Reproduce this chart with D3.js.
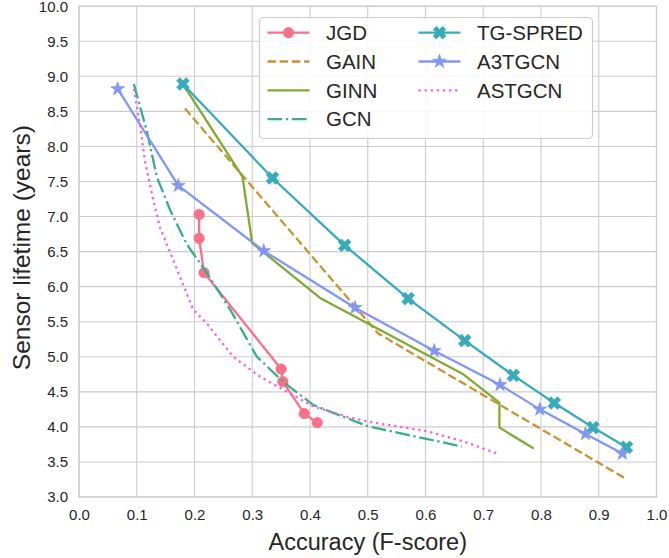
<!DOCTYPE html>
<html><head><meta charset="utf-8">
<script src="https://cdn.jsdelivr.net/npm/d3@7"></script>
<style>html,body{margin:0;padding:0;background:#fff;}svg{display:block;}</style>
</head><body>
<svg id="chart" width="669" height="558"></svg>
<script>
const seriesNames = ["JGD","GAIN","GINN","GCN","TG-SPRED","A3TGCN","ASTGCN"];
const jgdX = [0.208,0.208,0.2165,0.350,0.353,0.390,0.4125];
const jgdY = [7.03,6.69,6.20,4.825,4.645,4.19,4.06];
const gainX = [0.1835,0.518,0.947];
const gainY = [8.54,5.333,3.26];
const ginnX = [0.18,0.283,0.30,0.419,0.6655,0.728,0.728,0.786];
const ginnY = [8.89,7.57,6.62,5.83,4.75,4.345,3.99,3.70];
const gcnX = [0.095,0.118,0.135,0.158,0.187,0.221,0.262,0.308,0.354,0.406,0.50,0.663];
const gcnY = [8.89,8.2,7.56,7.09,6.6,6.2,5.67,5.0,4.64,4.31,4.01,3.72];
const tgX = [0.18,0.335,0.46,0.57,0.668,0.752,0.823,0.89,0.948];
const tgY = [8.89,7.55,6.59,5.83,5.23,4.735,4.34,3.99,3.71];
const a3X = [0.067,0.172,0.32,0.478,0.615,0.729,0.798,0.877,0.941];
const a3Y = [8.82,7.44,6.51,5.70,5.085,4.60,4.25,3.90,3.62];
const astX = [0.095,0.106,0.114,0.126,0.14,0.163,0.198,0.221,0.267,0.313,0.36,0.406,0.464,0.504,0.602,0.663,0.728];
const astY = [8.82,8.28,7.8,7.33,6.85,6.38,5.67,5.48,5.0,4.72,4.5,4.29,4.145,4.07,3.94,3.80,3.61];
const xTicks = [0.0,0.1,0.2,0.3,0.4,0.5,0.6,0.7,0.8,0.9,1.0];
const yTicks = [3.0,3.5,4.0,4.5,5.0,5.5,6.0,6.5,7.0,7.5,8.0,8.5,9.0,9.5,10.0];

const LW = 2.3;
const styles = {
  "JGD":{color:"#f77189",dash:null,marker:"circle"},
  "GAIN":{color:"#c69432",dash:[3.7*LW,1.6*LW],marker:null},
  "GINN":{color:"#82a931",dash:null,marker:null},
  "GCN":{color:"#34af8a",dash:[6.4*LW,1.6*LW,1*LW,1.6*LW],marker:null},
  "TG-SPRED":{color:"#37aabb",dash:null,marker:"x"},
  "A3TGCN":{color:"#8197f4",dash:null,marker:"star"},
  "ASTGCN":{color:"#f55deb",dash:[1*LW,1.65*LW],marker:null}
};
const seriesData = {
  "JGD":[jgdX,jgdY],"GAIN":[gainX,gainY],"GINN":[ginnX,ginnY],"GCN":[gcnX,gcnY],
  "TG-SPRED":[tgX,tgY],"A3TGCN":[a3X,a3Y],"ASTGCN":[astX,astY]
};

const svg = d3.select("#chart");
const L=79, R=656.5, T=6.2, B=497;
const x = d3.scaleLinear().domain([0,1]).range([L,R]);
const y = d3.scaleLinear().domain([3,10]).range([B,T]);
const font = "'Liberation Sans', Arial, sans-serif";
const grid = "#cccccc";

// grid
const g = svg.append("g");
g.selectAll(".vg").data(xTicks).join("line")
  .attr("x1",d=>x(d)).attr("x2",d=>x(d)).attr("y1",T).attr("y2",B)
  .attr("stroke",grid).attr("stroke-width",1.1);
g.selectAll(".hg").data(yTicks).join("line")
  .attr("y1",d=>y(d)).attr("y2",d=>y(d)).attr("x1",L).attr("x2",R)
  .attr("stroke",grid).attr("stroke-width",1.1);
g.append("rect").attr("x",L).attr("y",T).attr("width",R-L).attr("height",B-T)
  .attr("fill","none").attr("stroke",grid).attr("stroke-width",1.3);

// axes
const xAxis = svg.append("g").attr("transform",`translate(0,${B})`)
  .call(d3.axisBottom(x).tickValues(xTicks).tickFormat(d3.format(".1f")).tickSize(0).tickPadding(12));
const yAxis = svg.append("g").attr("transform",`translate(${L},0)`)
  .call(d3.axisLeft(y).tickValues(yTicks).tickFormat(d3.format(".1f")).tickSize(0).tickPadding(11));
[xAxis,yAxis].forEach(a=>{
  a.select(".domain").remove();
  a.selectAll("text").attr("font-family",font).attr("font-size",15).attr("fill","#262626");
});

svg.append("text").attr("x",(L+R)/2).attr("y",550).attr("text-anchor","middle")
  .attr("font-family",font).attr("font-size",23.5).attr("fill","#262626").text("Accuracy (F-score)");
svg.append("text").attr("transform",`translate(30,${(T+B)/2 - 4}) rotate(-90)`).attr("text-anchor","middle")
  .attr("font-family",font).attr("font-size",24.5).attr("fill","#262626").text("Sensor lifetime (years)");

// lines
const line = d3.line().x(d=>x(d[0])).y(d=>y(d[1]));
const plot = svg.append("g");
function markerPath(type){
  if(type==="circle") return d3.symbol(d3.symbolCircle, 85)();
  if(type==="x") return d3.symbol(d3.symbolCross, 100)();
  if(type==="star") return d3.symbol(d3.symbolStar, 58)();
}
function drawMarker(sel, type, color, px, py){
  sel.append("path").attr("d",markerPath(type))
    .attr("transform",`translate(${px},${py})${type==="x"?" rotate(45)":""}`)
    .attr("fill",color).attr("stroke",color).attr("stroke-width",0.8);
}
seriesNames.forEach(name=>{
  const [xs,ys] = seriesData[name];
  const pts = xs.map((v,i)=>[v,ys[i]]);
  const st = styles[name];
  plot.append("path").attr("d",line(pts)).attr("fill","none")
    .attr("stroke",st.color).attr("stroke-width",LW)
    .attr("stroke-dasharray",st.dash?st.dash.join(","):null)
    .attr("stroke-linejoin","round").attr("stroke-linecap",st.dash?"butt":"round");
  if(st.marker){
    pts.forEach(p=>drawMarker(plot, st.marker, st.color, x(p[0]), y(p[1])));
  }
});

// legend
const lg = svg.append("g");
lg.append("rect").attr("x",259.5).attr("y",17.5).attr("width",333).attr("height",121)
  .attr("rx",4).attr("fill","#fff").attr("fill-opacity",0.85).attr("stroke",grid).attr("stroke-width",1.2);
const cols = [["JGD","GAIN","GINN","GCN"],["TG-SPRED","A3TGCN","ASTGCN"]];
const colX = [267.5,418.5];
const rowY0 = 32.7, rowStep = 28.8;
cols.forEach((c,ci)=>{
  c.forEach((name,ri)=>{
    const st = styles[name];
    const yy = rowY0 + ri*rowStep;
    const x0 = colX[ci], x1 = x0+42;
    lg.append("line").attr("x1",x0).attr("x2",x1).attr("y1",yy).attr("y2",yy)
      .attr("stroke",st.color).attr("stroke-width",LW)
      .attr("stroke-dasharray",st.dash?st.dash.join(","):null);
    if(st.marker) drawMarker(lg, st.marker, st.color, (x0+x1)/2, yy);
    lg.append("text").attr("x",x0+58.5).attr("y",yy).attr("dy","0.36em")
      .attr("font-family",font).attr("font-size",20.5).attr("fill","#262626").text(name);
  });
});
</script>
</body></html>
